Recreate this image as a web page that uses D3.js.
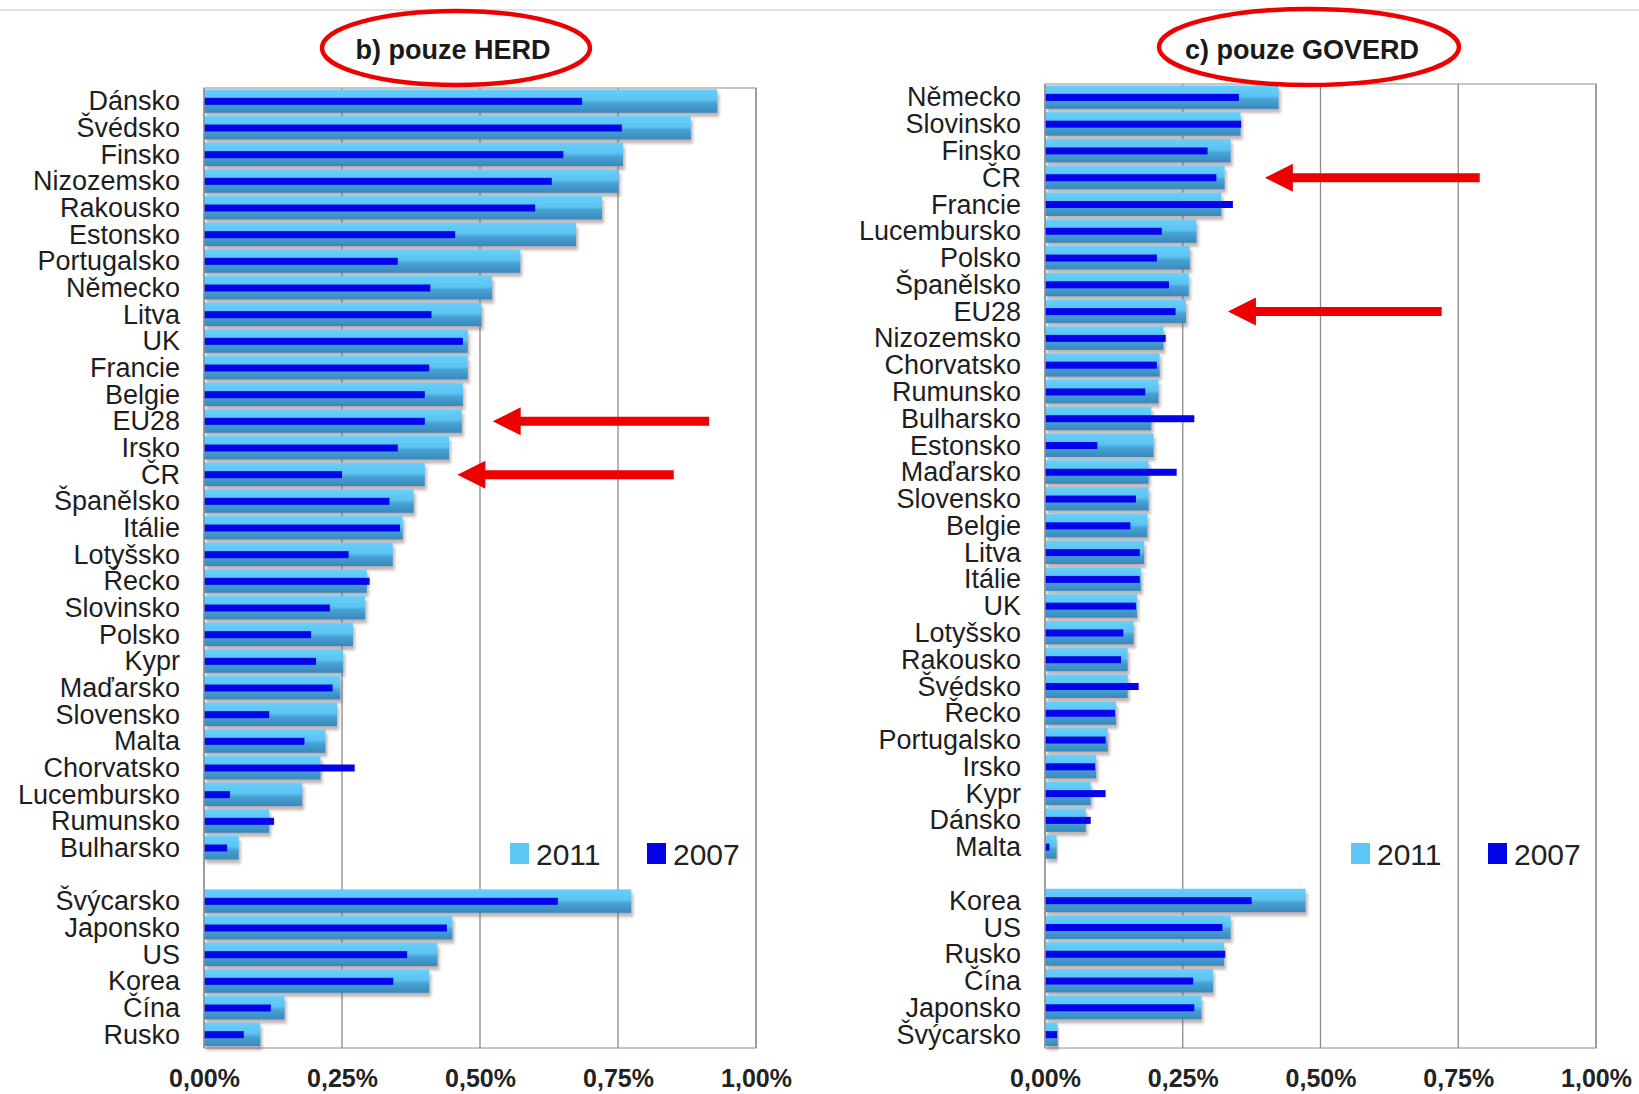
<!DOCTYPE html>
<html>
<head>
<meta charset="utf-8">
<script src="https://cdn.jsdelivr.net/npm/d3@7"></script>
<style>
  body { margin: 0; background: #fff; }
  svg { display: block; }
  .cat { font-family: "Liberation Sans", Arial, sans-serif; font-size: 27px; fill: #1e1e1e; }
  .tick-lab { font-family: "Liberation Sans", Arial, sans-serif; font-size: 25px; font-weight: bold; fill: #222; }
  .title { font-family: "Liberation Sans", Arial, sans-serif; font-size: 27px; font-weight: bold; fill: #1a1a1a; }
  .leg { font-family: "Liberation Sans", Arial, sans-serif; font-size: 30px; fill: #222; }
</style>
</head>
<body>
<svg id="chart"></svg>
<script>
// b) pouze HERD
let herdCountries = ["Dánsko", "Švédsko", "Finsko", "Nizozemsko", "Rakousko", "Estonsko", "Portugalsko",
    "Německo", "Litva", "UK", "Francie", "Belgie", "EU28", "Irsko", "ČR", "Španělsko", "Itálie", "Lotyšsko",
    "Řecko", "Slovinsko", "Polsko", "Kypr", "Maďarsko", "Slovensko", "Malta", "Chorvatsko", "Lucembursko",
    "Rumunsko", "Bulharsko"];
let herd2011 = [0.930, 0.882, 0.759, 0.751, 0.721, 0.674, 0.573, 0.522, 0.503, 0.478, 0.478, 0.469, 0.467,
    0.444, 0.400, 0.380, 0.360, 0.342, 0.295, 0.292, 0.270, 0.252, 0.247, 0.241, 0.220, 0.211, 0.178, 0.118, 0.063];
let herd2007 = [0.685, 0.757, 0.651, 0.630, 0.600, 0.455, 0.351, 0.410, 0.412, 0.469, 0.408, 0.400, 0.400,
    0.351, 0.250, 0.336, 0.355, 0.262, 0.300, 0.228, 0.194, 0.203, 0.233, 0.118, 0.182, 0.273, 0.047, 0.127, 0.042];
let herdOther = ["Švýcarsko", "Japonsko", "US", "Korea", "Čína", "Rusko"];
let herdOther2011 = [0.774, 0.450, 0.423, 0.408, 0.146, 0.102];
let herdOther2007 = [0.641, 0.440, 0.368, 0.343, 0.121, 0.072];

// c) pouze GOVERD
let goverdCountries = ["Německo", "Slovinsko", "Finsko", "ČR", "Francie", "Lucembursko", "Polsko", "Španělsko",
    "EU28", "Nizozemsko", "Chorvatsko", "Rumunsko", "Bulharsko", "Estonsko", "Maďarsko", "Slovensko", "Belgie",
    "Litva", "Itálie", "UK", "Lotyšsko", "Rakousko", "Švédsko", "Řecko", "Portugalsko", "Irsko", "Kypr",
    "Dánsko", "Malta"];
let goverd2011 = [0.424, 0.355, 0.337, 0.326, 0.320, 0.275, 0.263, 0.261, 0.256, 0.215, 0.208, 0.206, 0.193,
    0.197, 0.188, 0.188, 0.186, 0.180, 0.174, 0.167, 0.161, 0.150, 0.150, 0.129, 0.114, 0.093, 0.083, 0.074, 0.021];
let goverd2007 = [0.352, 0.356, 0.295, 0.311, 0.341, 0.212, 0.203, 0.225, 0.237, 0.219, 0.203, 0.182, 0.271,
    0.095, 0.239, 0.165, 0.155, 0.172, 0.172, 0.165, 0.142, 0.138, 0.170, 0.127, 0.110, 0.091, 0.110, 0.083, 0.008];
let goverdOther = ["Korea", "US", "Rusko", "Čína", "Japonsko", "Švýcarsko"];
let goverdOther2011 = [0.473, 0.337, 0.325, 0.305, 0.284, 0.023];
let goverdOther2007 = [0.375, 0.322, 0.327, 0.269, 0.271, 0.022];

let xTicks = [0, 0.25, 0.5, 0.75, 1];
let seriesNames = ["2011", "2007"];

// red arrows: category, tip and tail in % on the x scale
let herdArrows = [{ cat: "EU28", tip: 0.523, tail: 0.915 }, { cat: "ČR", tip: 0.459, tail: 0.851 }];
let goverdArrows = [{ cat: "ČR", tip: 0.399, tail: 0.789 }, { cat: "EU28", tip: 0.332, tail: 0.720 }];

let width = 1639, height = 1094;
let lightColor = "#5cc6f5", darkColor = "#0404e8", red = "#ee0000";

let svg = d3.select("#chart").attr("width", width).attr("height", height);

let defs = svg.append("defs");
let grad = defs.append("linearGradient").attr("id", "lightGrad")
    .attr("x1", 0).attr("y1", 0).attr("x2", 0).attr("y2", 1);
grad.append("stop").attr("offset", "0%").attr("stop-color", "#68cffa");
grad.append("stop").attr("offset", "45%").attr("stop-color", "#5ac4f4");
grad.append("stop").attr("offset", "60%").attr("stop-color", "#47a2d4");
grad.append("stop").attr("offset", "100%").attr("stop-color", "#3988bb");

let shadow = defs.append("filter").attr("id", "shadow")
    .attr("x", "-5%").attr("y", "-30%").attr("width", "115%").attr("height", "190%");
shadow.append("feDropShadow").attr("dx", 2).attr("dy", 4).attr("stdDeviation", 1.8)
    .attr("flood-color", "#7a5a5a").attr("flood-opacity", 0.45);

// top separator line
svg.append("line").attr("x1", 0).attr("x2", width).attr("y1", 10).attr("y2", 10)
    .attr("stroke", "#e2e2e2").attr("stroke-width", 2);

function drawPanel(opts) {
    let slots = opts.cats.concat(["__gap"], opts.other);
    let rows = opts.cats.map((c, i) => ({ cat: c, v11: opts.v11[i], v07: opts.v07[i] }))
        .concat(opts.other.map((c, i) => ({ cat: c, v11: opts.o11[i], v07: opts.o07[i] })));

    let xScale = d3.scaleLinear().domain([0, 1]).range([opts.left, opts.right]);
    let yScale = d3.scaleBand().domain(slots).range([opts.top, opts.bottom]);
    let bw = yScale.bandwidth();
    let g = svg.append("g");

    // plot frame and gridlines
    g.append("rect")
        .attr("x", opts.left).attr("y", opts.top)
        .attr("width", opts.right - opts.left).attr("height", opts.bottom - opts.top)
        .attr("fill", "none").attr("stroke", "#a0a0a0").attr("stroke-width", 1.2);

    g.selectAll(".grid")
        .data(xTicks.slice(1))
        .enter()
        .append("line")
        .attr("x1", (d) => xScale(d)).attr("x2", (d) => xScale(d))
        .attr("y1", opts.top).attr("y2", opts.bottom)
        .attr("stroke", "#8a8a8a").attr("stroke-width", 1.3);

    // 2011 bars
    g.selectAll(".bar11")
        .data(rows)
        .enter()
        .append("rect")
        .attr("x", xScale(0))
        .attr("y", (d) => yScale(d.cat) + bw / 2 - 12)
        .attr("width", (d) => xScale(d.v11) - xScale(0))
        .attr("height", 23.5)
        .attr("fill", "url(#lightGrad)")
        .attr("filter", "url(#shadow)");

    // 2007 bars
    g.selectAll(".bar07")
        .data(rows)
        .enter()
        .append("rect")
        .attr("x", xScale(0))
        .attr("y", (d) => yScale(d.cat) + bw / 2 - 3.5)
        .attr("width", (d) => xScale(d.v07) - xScale(0))
        .attr("height", 7)
        .attr("fill", darkColor);

    // left border drawn again on top of bars
    g.append("line").attr("x1", opts.left).attr("x2", opts.left)
        .attr("y1", opts.top).attr("y2", opts.bottom)
        .attr("stroke", "#909090").attr("stroke-width", 1.5);

    // category labels
    g.selectAll(".cat")
        .data(rows)
        .enter()
        .append("text")
        .attr("class", "cat")
        .attr("text-anchor", "end")
        .attr("x", opts.left - 24)
        .attr("y", (d) => yScale(d.cat) + bw / 2 + 9)
        .text((d) => d.cat);

    // x axis
    let xAxis = d3.axisBottom(xScale)
        .tickValues(xTicks)
        .tickSize(0)
        .tickPadding(0)
        .tickFormat((d) => d3.format(".2f")(d).replace(".", ",") + "%");

    let ax = g.append("g")
        .attr("transform", "translate(0," + opts.bottom + ")")
        .call(xAxis);
    ax.select(".domain").remove();
    ax.selectAll("text")
        .attr("class", "tick-lab")
        .attr("y", 39)
        .attr("dy", 0);

    // legend
    let legY = 843;
    seriesNames.forEach((name, i) => {
        let lx = opts.left + (i === 0 ? 306 : 443);
        g.append("rect").attr("x", lx).attr("y", legY)
            .attr("width", 19).attr("height", 21)
            .attr("fill", i === 0 ? lightColor : darkColor);
        g.append("text").attr("class", "leg")
            .attr("x", lx + 26).attr("y", legY + 22)
            .text(name);
    });

    // title with red ellipse
    g.append("ellipse")
        .attr("cx", opts.ell[0]).attr("cy", opts.ell[1])
        .attr("rx", opts.ell[2]).attr("ry", opts.ell[3])
        .attr("fill", "none").attr("stroke", red).attr("stroke-width", 4.5);
    g.append("text").attr("class", "title")
        .attr("text-anchor", "middle")
        .attr("x", opts.titleX).attr("y", 59)
        .text(opts.title);

    // red arrows
    opts.arrows.forEach((a) => {
        let cy = yScale(a.cat) + bw / 2;
        let tip = xScale(a.tip), tail = xScale(a.tail);
        let headLen = 28, headH = 14, shaft = 4.5;
        let path = d3.path();
        path.moveTo(tip, cy);
        path.lineTo(tip + headLen, cy - headH);
        path.lineTo(tip + headLen, cy - shaft);
        path.lineTo(tail, cy - shaft);
        path.lineTo(tail, cy + shaft);
        path.lineTo(tip + headLen, cy + shaft);
        path.lineTo(tip + headLen, cy + headH);
        path.closePath();
        g.append("path").attr("d", path.toString()).attr("fill", red);
    });
}

drawPanel({
    cats: herdCountries, v11: herd2011, v07: herd2007,
    other: herdOther, o11: herdOther2011, o07: herdOther2007,
    left: 204, right: 756, top: 88, bottom: 1048,
    title: "b) pouze HERD", titleX: 453, ell: [456, 48, 134, 37],
    arrows: herdArrows
});

drawPanel({
    cats: goverdCountries, v11: goverd2011, v07: goverd2007,
    other: goverdOther, o11: goverdOther2011, o07: goverdOther2007,
    left: 1045, right: 1596, top: 84, bottom: 1048,
    title: "c) pouze GOVERD", titleX: 1302, ell: [1309, 47, 150, 38],
    arrows: goverdArrows
});
</script>
</body>
</html>
